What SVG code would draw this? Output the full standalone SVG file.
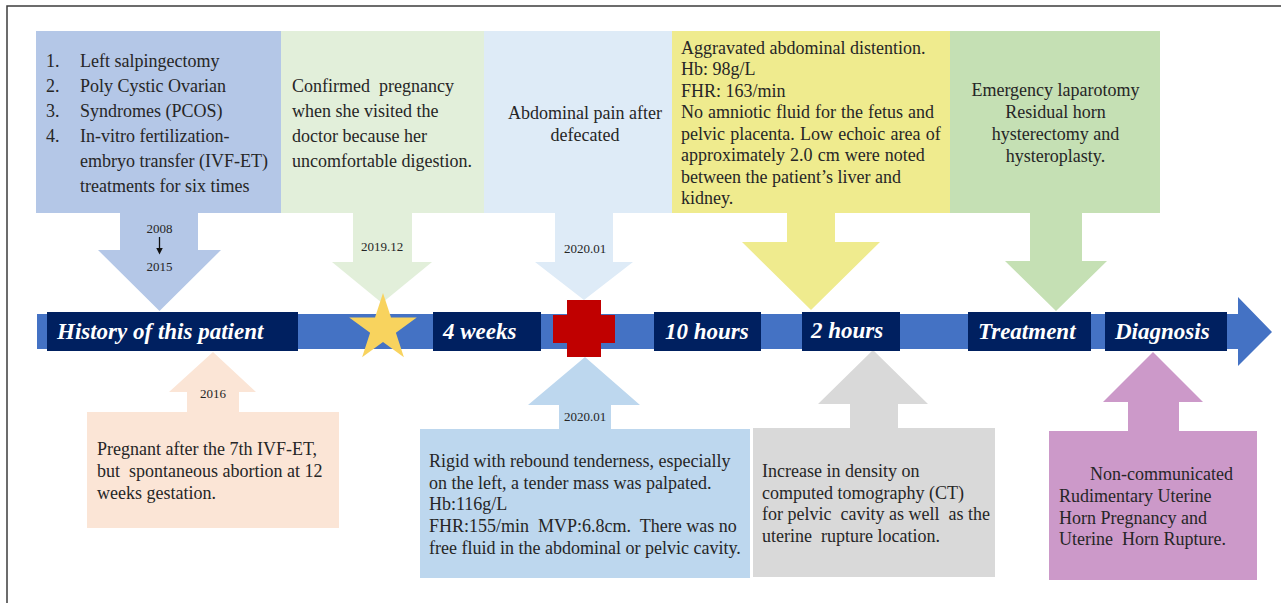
<svg xmlns="http://www.w3.org/2000/svg" width="1281" height="603" viewBox="0 0 1281 603">
<style>
.t{font-family:"Liberation Serif","Times New Roman",serif;font-size:18px;fill:#262626}
.c{text-anchor:middle}
.s{font-family:"Liberation Serif","Times New Roman",serif;font-size:13px;fill:#262626;text-anchor:middle}
.lb{fill:#002060}
.lt{font-family:"Liberation Serif","Times New Roman",serif;font-size:23px;font-weight:bold;font-style:italic;fill:#ffffff}
</style>
<defs>
<marker id="ah" viewBox="0 0 10 10" refX="5" refY="5" markerWidth="7" markerHeight="7" orient="auto" markerUnits="userSpaceOnUse">
<path d="M0,0 L10,5 L0,10 Z" fill="#111"/>
</marker>
</defs>
<rect x="0" y="0" width="1281" height="603" fill="#ffffff"/>
<rect x="7" y="6" width="1300" height="620" fill="none" stroke="#3c3c3c" stroke-width="1.5"/>

<g id="timeline">
<path d="M37,314 H1238 V297 L1272,332 L1238,366 V349 H37 Z" fill="#4472c4"/>
</g>

<g id="node-history-box">
<path d="M36,31 H281 V213 H198 V250 H221 L159.5,311 L98,250 H120 V213 H36 Z" fill="#b4c7e7"/>
<text class="t" x="46" y="67">1.</text><text class="t" x="80" y="67">Left salpingectomy</text>
<text class="t" x="46" y="92">2.</text><text class="t" x="80" y="92">Poly Cystic Ovarian</text>
<text class="t" x="46" y="117">3.</text><text class="t" x="80" y="117">Syndromes (PCOS)</text>
<text class="t" x="46" y="142">4.</text><text class="t" x="80" y="142">In-vitro fertilization-</text>
<text class="t" x="80" y="167">embryo transfer (IVF-ET)</text>
<text class="t" x="80" y="192">treatments for six times</text>
<text class="s" x="159.5" y="233">2008</text>
<text class="s" x="159.5" y="271">2015</text>
</g>

<g id="node-confirmed">
<path d="M281,31 H484 V213 H412 V262 H432 L382,303 L332,262 H353 V213 H281 Z" fill="#e2efda"/>
<text class="t" x="292" y="92" xml:space="preserve">Confirmed  pregnancy</text>
<text class="t" x="292" y="117">when she visited the</text>
<text class="t" x="292" y="142">doctor because her</text>
<text class="t" x="292" y="167">uncomfortable digestion.</text>
<text class="s" x="382" y="251">2019.12</text>
</g>

<g id="node-abdominal-pain">
<path d="M484,31 H672 V213 H613 V262 H633 L584,300 L535,262 H555 V213 H484 Z" fill="#deebf7"/>
<text class="t c" x="585" y="119">Abdominal pain after</text>
<text class="t c" x="585" y="141">defecated</text>
<text class="s" x="585" y="253">2020.01</text>
</g>

<g id="node-aggravated">
<path d="M672,31 H950 V213 H835 V242 H880 L811,310 L742,242 H787 V213 H672 Z" fill="#efeb8e"/>
<text class="t" x="681" y="53.5">Aggravated abdominal distention.</text>
<text class="t" x="681" y="75">Hb: 98g/L</text>
<text class="t" x="681" y="96.5">FHR: 163/min</text>
<text class="t" x="681" y="118" word-spacing="0.5">No amniotic fluid for the fetus and</text>
<text class="t" x="681" y="139.5" word-spacing="0.8">pelvic placenta. Low echoic area of</text>
<text class="t" x="681" y="161" word-spacing="0.6">approximately 2.0 cm were noted</text>
<text class="t" x="681" y="182.5">between the patient’s liver and</text>
<text class="t" x="681" y="204">kidney.</text>
</g>

<g id="node-emergency">
<path d="M950,31 H1160 V213 H1082 V261 H1107 L1056,311 L1005,261 H1030 V213 H950 Z" fill="#c5e0b4"/>
<text class="t c" x="1055.5" y="96">Emergency laparotomy</text>
<text class="t c" x="1055.5" y="118">Residual horn</text>
<text class="t c" x="1055.5" y="140">hysterectomy and</text>
<text class="t c" x="1055.5" y="161.5">hysteroplasty.</text>
</g>

<g id="node-pregnant-2016">
<path d="M87,528 V412 H187 V392 H169 L213,352 L256,392 H239 V412 H339 V528 Z" fill="#fbe5d6"/>
<text class="s" x="213" y="398">2016</text>
<text class="t" x="97" y="455">Pregnant after the 7th IVF-ET,</text>
<text class="t" x="97" y="477" xml:space="preserve">but  spontaneous abortion at 12</text>
<text class="t" x="97" y="498.5">weeks gestation.</text>
</g>

<g id="node-rigid">
<path d="M420,578 V429 H559 V405 H528 L585,357 L640,405 H611 V429 H750 V578 Z" fill="#bdd7ee"/>
<text class="s" x="585" y="421">2020.01</text>
<text class="t" x="429" y="467">Rigid with rebound tenderness, especially</text>
<text class="t" x="429" y="488.5">on the left, a tender mass was palpated.</text>
<text class="t" x="429" y="510">Hb:116g/L</text>
<text class="t" x="429" y="532" xml:space="preserve">FHR:155/min  MVP:6.8cm.  There was no</text>
<text class="t" x="429" y="553.5">free fluid in the abdominal or pelvic cavity.</text>
</g>

<g id="node-ct">
<path d="M753,577 V428 H850 V404 H818 L873,350 L928,404 H898 V428 H995 V577 Z" fill="#d9d9d9"/>
<text class="t" x="762" y="477">Increase in density on</text>
<text class="t" x="762" y="498.5">computed tomography (CT)</text>
<text class="t" x="762" y="520" xml:space="preserve">for pelvic  cavity as well  as the</text>
<text class="t" x="762" y="542" xml:space="preserve">uterine  rupture location.</text>
</g>

<g id="node-diagnosis-box">
<path d="M1049,580 V431 H1128 V402 H1103 L1153,352 L1203,402 H1179 V431 H1257 V580 Z" fill="#cc99c9"/>
<text class="t" x="1090" y="480">Non-communicated</text>
<text class="t" x="1059" y="502">Rudimentary Uterine</text>
<text class="t" x="1059" y="523.5">Horn Pregnancy and</text>
<text class="t" x="1059" y="545" xml:space="preserve">Uterine  Horn Rupture.</text>
</g>

<g id="labels">
<g id="label-history"><rect class="lb" x="47" y="312" width="251" height="39"/><text class="lt" x="57" y="339">History of this patient</text></g>
<g id="label-4weeks"><rect class="lb" x="433" y="312" width="108" height="39"/><text class="lt" x="443" y="339">4 weeks</text></g>
<g id="label-10hours"><rect class="lb" x="654" y="312" width="107" height="39"/><text class="lt" x="665" y="339">10 hours</text></g>
<g id="label-2hours"><rect class="lb" x="802" y="312" width="98" height="39"/><text class="lt" x="811" y="338">2 hours</text></g>
<g id="label-treatment"><rect class="lb" x="968" y="312" width="123" height="39"/><text class="lt" x="978" y="339">Treatment</text></g>
<g id="label-diagnosis"><rect class="lb" x="1105" y="312" width="122" height="39"/><text class="lt" x="1115" y="339">Diagnosis</text></g>
</g>

<g id="node-star">
<polygon points="383,293 391,317.5 416.8,317.5 395.9,332.7 403.9,357.2 383,342.1 362.1,357.2 370.1,332.7 349.2,317.5 375,317.5" fill="#f8d35e"/>
</g>

<g id="node-cross">
<path d="M567,300 H601 V315 H615 V343 H601 V357 H567 V343 H553 V315 H567 Z" fill="#c00000"/>
</g>

<g id="connectors">
<line x1="159.5" y1="237" x2="159.5" y2="251" stroke="#111" stroke-width="1.3" marker-end="url(#ah)"/>
</g>
</svg>
